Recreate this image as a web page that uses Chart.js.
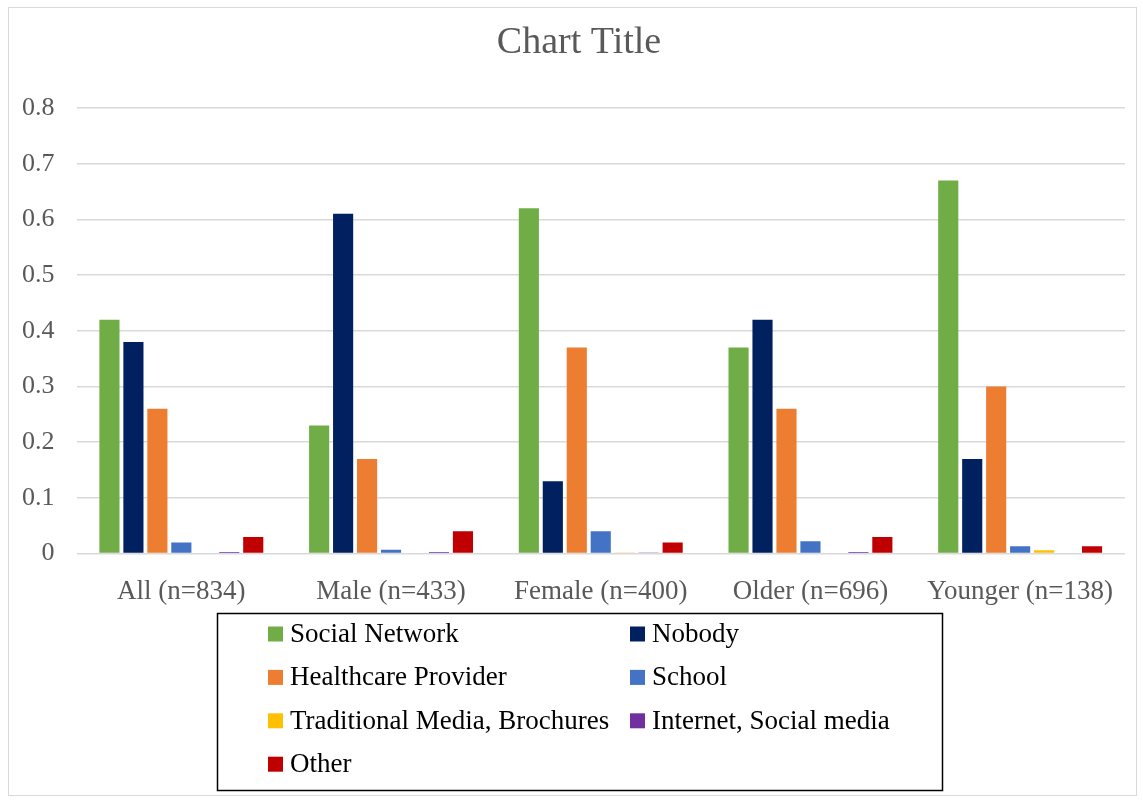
<!DOCTYPE html>
<html>
<head>
<meta charset="utf-8">
<script src="https://cdn.jsdelivr.net/npm/chart.js@4"></script>
<style>
  body { margin: 0; background: #fff; }
  #wrap { position: relative; width: 1143px; height: 800px; }
  #frame { position: absolute; left: 8px; top: 7px; width: 1129px; height: 789px; border: 1px solid #d9d9d9; box-sizing: border-box; pointer-events: none; }
</style>
</head>
<body>
<div id="wrap">
  <canvas id="chart" width="1143" height="800"></canvas>
  <div id="frame"></div>
</div>
<script>
var categories = ["All (n=834)", "Male (n=433)", "Female (n=400)", "Older (n=696)", "Younger (n=138)"];
var seriesNames = ["Social Network", "Nobody", "Healthcare Provider", "School", "Traditional Media, Brochures", "Internet, Social media", "Other"];
var seriesColors = ["#70ad47", "#002060", "#ed7d31", "#4472c4", "#ffc000", "#7030a0", "#c00000"];

var socialNetwork = [0.42, 0.23, 0.62, 0.37, 0.67];
var nobody = [0.38, 0.61, 0.13, 0.42, 0.17];
var healthcare = [0.26, 0.17, 0.37, 0.26, 0.30];
var school = [0.02, 0.007, 0.04, 0.022, 0.013];
var traditional = [0, 0, 0.001, 0, 0.006];
var internet = [0.003, 0.003, 0.001, 0.003, 0];
var other = [0.03, 0.04, 0.02, 0.03, 0.013];

var seriesValues = [socialNetwork, nobody, healthcare, school, traditional, internet, other];

var serif = "'Liberation Serif', 'Times New Roman', serif";

var datasets = seriesNames.map(function (name, i) {
    return {
        label: name,
        data: seriesValues[i],
        backgroundColor: seriesColors[i],
        borderWidth: 0,
        categoryPercentage: 0.8,
        barPercentage: 0.84
    };
});

// title centred on the outer frame, plus a boxed two-column legend like the Excel one
var excelDecor = {
    id: "excelDecor",
    afterDraw: function (chart) {
        var c = chart.ctx;
        c.save();
        c.textBaseline = "middle";
        c.textAlign = "center";
        c.fillStyle = "#595959";
        c.font = Chart.helpers.toFont({ family: serif, size: 38 }).string;
        c.fillText("Chart Title", 579, 43);

        var box = { x: 217.5, y: 613.5, w: 725, h: 177 };
        c.strokeStyle = "#000";
        c.lineWidth = 1.5;
        c.strokeRect(box.x, box.y, box.w, box.h);
        c.font = Chart.helpers.toFont({ family: serif, size: 27 }).string;
        c.textAlign = "left";
        var colX = [268, 630];
        var rowH = 43.4;
        chart.data.datasets.forEach(function (ds, i) {
            var col = i % 2, row = Math.floor(i / 2);
            var x = colX[col], y = box.y + 20.5 + row * rowH;
            c.fillStyle = ds.backgroundColor;
            c.fillRect(x, y - 7.5, 15, 15);
            c.fillStyle = "#000";
            c.fillText(ds.label, x + 22, y + 1);
        });
        c.restore();
    }
};

var ctx = document.getElementById("chart").getContext("2d");
new Chart(ctx, {
    type: "bar",
    data: { labels: categories, datasets: datasets },
    plugins: [excelDecor],
    options: {
        responsive: false,
        animation: false,
        layout: { padding: { left: 0, right: 18, top: 108, bottom: 170 } },
        plugins: {
            legend: { display: false },
            tooltip: { enabled: false },
            title: { display: false }
        },
        scales: {
            y: {
                min: 0,
                max: 0.8,
                border: { display: false },
                grid: { color: "#d9d9d9", lineWidth: 1.5, drawTicks: false },
                ticks: {
                    stepSize: 0.1,
                    padding: 22,
                    color: "#595959",
                    font: { family: serif, size: 26 }
                }
            },
            x: {
                border: { display: false },
                grid: { display: false, drawTicks: false },
                ticks: {
                    padding: 22,
                    color: "#595959",
                    font: { family: serif, size: 27 }
                }
            }
        }
    }
});
</script>
</body>
</html>
